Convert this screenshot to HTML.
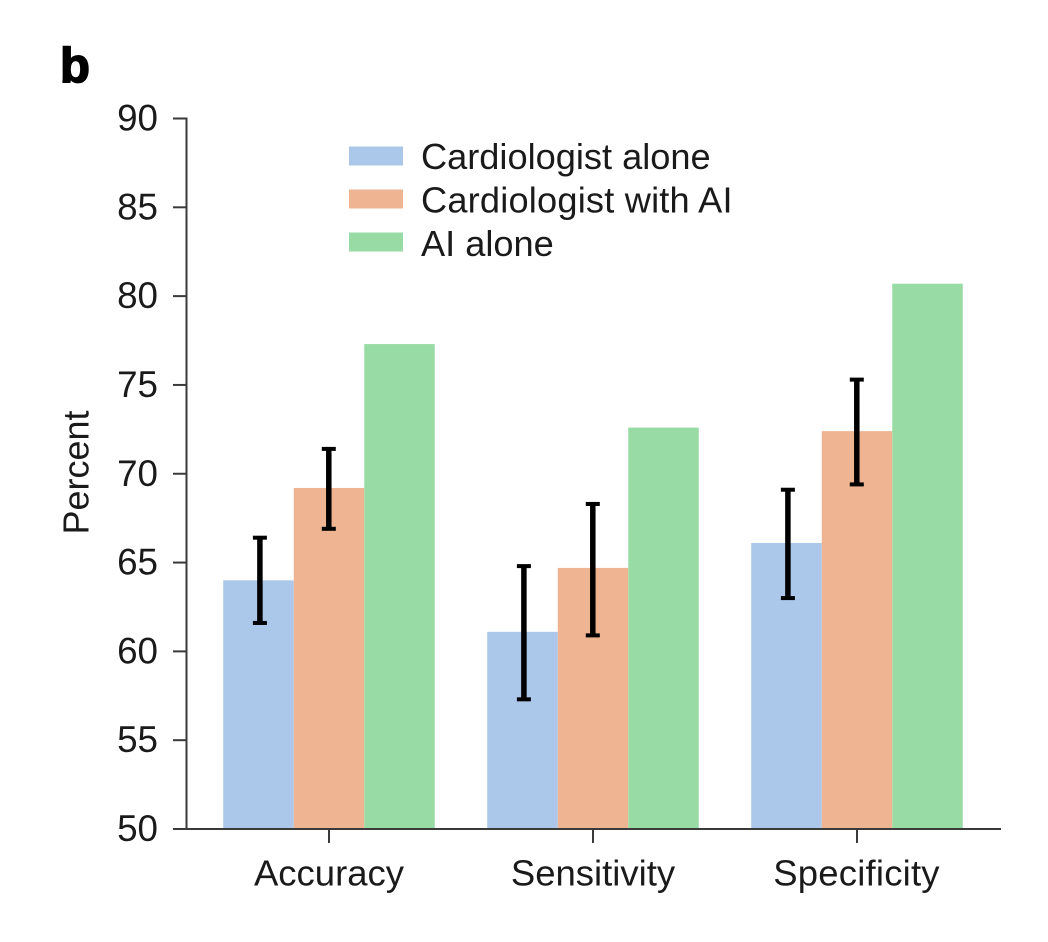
<!DOCTYPE html>
<html>
<head>
<meta charset="utf-8">
<style>
html,body{margin:0;padding:0;background:#fff;width:1048px;height:942px;overflow:hidden}
svg{display:block}
text{font-family:"Liberation Sans",sans-serif;fill:#1a1a1a}
</style>
</head>
<body>
<svg id="chart" width="1048" height="942" viewBox="0 0 1048 942"></svg>
<script>
const categories = ["Accuracy", "Sensitivity", "Specificity"];
const seriesNames = ["Cardiologist alone", "Cardiologist with AI", "AI alone"];
const cardiologistAlone = [64.0, 61.1, 66.1];
const cardiologistWithAI = [69.2, 64.7, 72.4];
const aiAlone = [77.3, 72.6, 80.7];
const aloneLow = [61.6, 57.3, 63.0];
const aloneHigh = [66.4, 64.8, 69.1];
const withAILow = [66.9, 60.9, 69.4];
const withAIHigh = [71.4, 68.3, 75.3];
const yTicks = [50, 55, 60, 65, 70, 75, 80, 85, 90];
const colors = ["#abc8ea", "#efb592", "#99dba4"];

const NS = "http://www.w3.org/2000/svg";
const svg = document.getElementById("chart");
function make(tag, attrs, text, parent) {
  const el = document.createElementNS(NS, tag);
  for (const k in attrs) el.setAttribute(k, attrs[k]);
  if (text !== undefined && text !== null) el.textContent = text;
  (parent || svg).appendChild(el);
  return el;
}
const y = v => 829 - (v - 50) * (829 - 118.5) / 40;
const groupCenter = i => 329 + i * 264;
const barW = 70.5;
const barX = (i, s) => groupCenter(i) + (s - 1.5) * barW;

const title = make("text", {x: 60, y: 82, "font-size": 49, "font-weight": "bold", stroke: "#000", "stroke-width": 1.6}, "b");


title.style.fill = "#000";

const allSeries = [cardiologistAlone, cardiologistWithAI, aiAlone];
allSeries.forEach((vals, s) => {
  vals.forEach((v, i) => {
    const r = make("rect", {x: barX(i, s), y: y(v), width: barW, height: y(50) - y(v), fill: colors[s]});
    
    
  });
});

function errorBar(i, s, lo, hi, name, shift) {
  const g = make("g", {stroke: "#000", "stroke-width": 5.5, fill: "none"});
  
  
  const cx = barX(i, s) + barW / 2 + shift;
  make("line", {x1: cx, x2: cx, y1: y(lo), y2: y(hi)}, null, g);
  make("line", {x1: cx - 7, x2: cx + 7, y1: y(lo), y2: y(lo), "stroke-width": 4}, null, g);
  make("line", {x1: cx - 7, x2: cx + 7, y1: y(hi), y2: y(hi), "stroke-width": 4}, null, g);
}
categories.forEach((c, i) => {
  errorBar(i, 0, aloneLow[i], aloneHigh[i], 'error-bar-alone-' + c.toLowerCase(), 1.4);
  errorBar(i, 1, withAILow[i], withAIHigh[i], 'error-bar-with-ai-' + c.toLowerCase(), -0.2);
});

const yAxis = make("line", {x1: 186.5, x2: 186.5, y1: y(90) - 1, y2: y(50) + 1, stroke: "#3a3a3a", "stroke-width": 2});


const xAxis = make("line", {x1: 186, x2: 1001, y1: y(50), y2: y(50), stroke: "#3a3a3a", "stroke-width": 2});



yTicks.forEach(t => {
  const tick = make("line", {x1: 173, x2: 187, y1: y(t), y2: y(t), stroke: "#3a3a3a", "stroke-width": 2});
  
  
  const lab = make("text", {x: 158, y: y(t) + 12, "text-anchor": "end", "font-size": 36.8}, t);
  
  
});

categories.forEach((c, i) => {
  const tick = make("line", {x1: groupCenter(i), x2: groupCenter(i), y1: y(50), y2: y(50) + 14, stroke: "#3a3a3a", "stroke-width": 2});
  
  
  const lab = make("text", {x: groupCenter(i) - (i === 2 ? 0.5 : 0), y: 885.5, "text-anchor": "middle", "font-size": 36.5, "letter-spacing": i === 2 ? 0.2 : 0}, c);
  
  
});

const yTitle = make("text", {transform: "translate(88.5,472.5) rotate(-90)", "text-anchor": "middle", "font-size": 36}, "Percent");



seriesNames.forEach((n, s) => {
  const ly = 156 + s * 43;
  const sw = make("rect", {x: 349, y: ly - 9.5, width: 54, height: 19, fill: colors[s]});
  
  
  const lab = make("text", {x: 421, y: 169 + s * 43.5, "font-size": 36.2, "letter-spacing": s === 1 ? 0.2 : 0}, n);
  
  
});
</script>
</body>
</html>
